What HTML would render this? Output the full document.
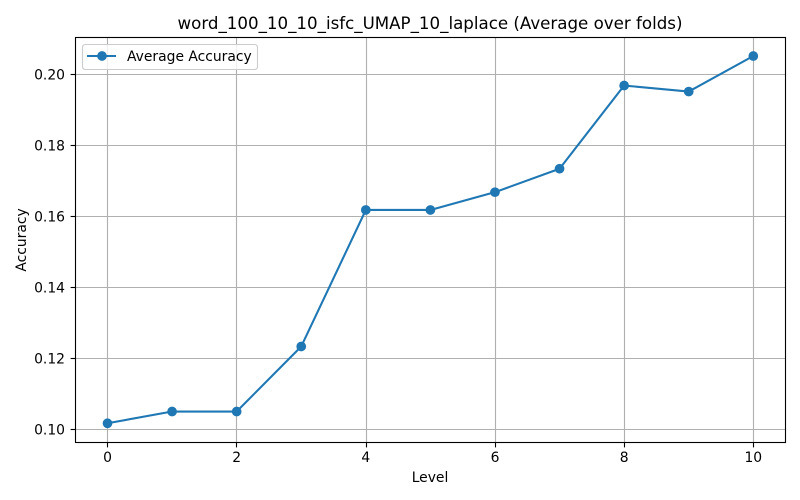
<!DOCTYPE html>
<html>
<head>
<meta charset="utf-8">
<style>
html,body{margin:0;padding:0;background:#fff;width:800px;height:500px;overflow:hidden}
svg{display:block}
text{font-family:"DejaVu Sans",sans-serif;fill:#000}
</style>
</head>
<body>
<svg id="chart" xmlns="http://www.w3.org/2000/svg" width="800" height="500" viewBox="0 0 800 500"></svg>
<script>
const levels = [0, 1, 2, 3, 4, 5, 6, 7, 8, 9, 10];
const accuracy = [0.1017, 0.105, 0.105, 0.1233, 0.1617, 0.1617, 0.1667, 0.1733, 0.1967, 0.195, 0.205];
const xTicks = [0, 2, 4, 6, 8, 10];
const yTicks = [0.10, 0.12, 0.14, 0.16, 0.18, 0.20];
const titleText = 'word_100_10_10_isfc_UMAP_10_laplace (Average over folds)';
const xLabelText = 'Level';
const yLabelText = 'Accuracy';
const seriesName = 'Average Accuracy';

const svg = document.getElementById('chart');
const NS = 'http://www.w3.org/2000/svg';
const plot = {left: 75.5, right: 785.5, top: 37.5, bottom: 442.5};
function sx(v) { return 107.5 + v * 64.58; }
function sy(v) { return 429.3 - (v - 0.10) * 3555; }
function gx(v) { return Math.floor(sx(v) + 0.3) + 0.5; }
function gy(v) { return Math.round(sy(v)) + 0.5; }
function make(tag, attrs, parent) {
  const el = document.createElementNS(NS, tag);
  for (const k in attrs) el.setAttribute(k, attrs[k]);
  (parent || svg).appendChild(el);
  return el;
}
const lineColor = '#1f77b4';

xTicks.forEach(function (t) {
  const g = make('line', {x1: gx(t), x2: gx(t), y1: plot.top, y2: plot.bottom, stroke: '#b0b0b0', 'stroke-width': 1.11});
  
  
});
yTicks.forEach(function (t) {
  const g = make('line', {x1: plot.left, x2: plot.right, y1: gy(t), y2: gy(t), stroke: '#b0b0b0', 'stroke-width': 1.11});
  
  
});

const series = make('polyline', {
  points: levels.map(function (l, i) { return sx(l) + ',' + sy(accuracy[i]); }).join(' '),
  fill: 'none', stroke: lineColor, 'stroke-width': 2.08, 'stroke-linejoin': 'round'
});



levels.forEach(function (l, i) {
  const p = make('circle', {cx: sx(l), cy: sy(accuracy[i]), r: 4.86, fill: lineColor});
  
  
});

const frame = make('rect', {x: plot.left, y: plot.top, width: plot.right - plot.left, height: plot.bottom - plot.top, fill: 'none', stroke: '#000', 'stroke-width': 1.11});



xTicks.forEach(function (t) {
  const m = make('line', {x1: gx(t), x2: gx(t), y1: plot.bottom, y2: plot.bottom + 4.9, stroke: '#000', 'stroke-width': 1.11});
  
  
  const l = make('text', {x: sx(t), y: 462, 'text-anchor': 'middle', 'font-size': 13.89});
  l.textContent = String(t);
  
  
});
yTicks.forEach(function (t) {
  const m = make('line', {x1: plot.left - 4.9, x2: plot.left, y1: gy(t), y2: gy(t), stroke: '#000', 'stroke-width': 1.11});
  
  
  const l = make('text', {x: 65, y: gy(t) + 5, 'text-anchor': 'end', 'font-size': 13.89});
  l.textContent = t.toFixed(2);
  
  
});

const title = make('text', {x: 430, y: 29, 'text-anchor': 'middle', 'font-size': 16.67});
title.textContent = titleText;



const xLabel = make('text', {x: 430, y: 482, 'text-anchor': 'middle', 'font-size': 13.89});
xLabel.textContent = xLabelText;



const yLabel = make('text', {x: 0, y: 0, 'text-anchor': 'middle', 'font-size': 13.89, transform: 'translate(26 240) rotate(-90)'});
yLabel.textContent = yLabelText;



const legend = make('g', {});


const legendBox = make('rect', {x: 82.5, y: 44.5, width: 175, height: 25, rx: 2.8, ry: 2.8, fill: '#fff', 'fill-opacity': 0.8, stroke: '#ccc', 'stroke-width': 1.11}, legend);


const legendLine = make('line', {x1: 87, x2: 116, y1: 56, y2: 56, stroke: lineColor, 'stroke-width': 2.08}, legend);


const legendMarker = make('circle', {cx: 102, cy: 56, r: 4.86, fill: lineColor}, legend);


const legendText = make('text', {x: 127, y: 61, 'font-size': 13.89}, legend);
legendText.textContent = seriesName;


</script>
</body>
</html>
